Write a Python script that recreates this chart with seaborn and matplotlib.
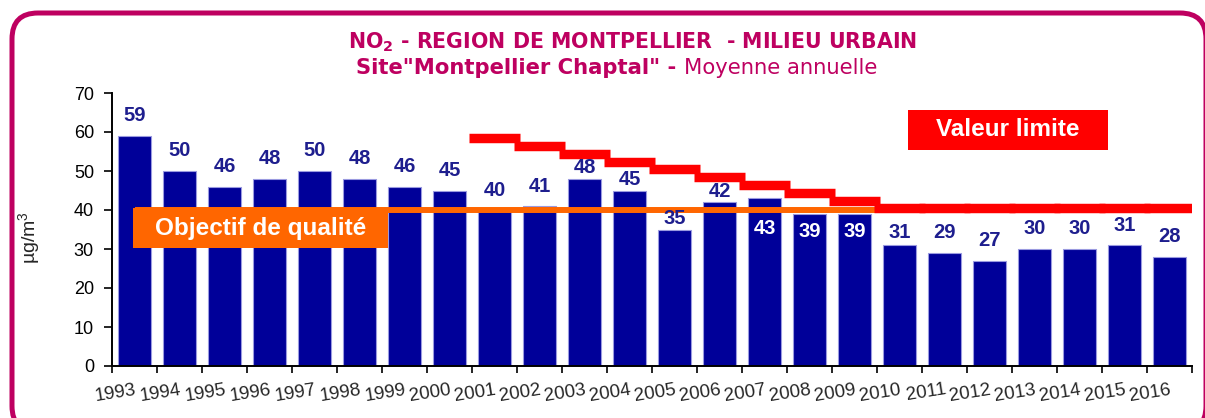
import matplotlib
matplotlib.use('Agg')
import matplotlib.pyplot as plt
import matplotlib.transforms as mtransforms
from matplotlib.patches import Rectangle, FancyBboxPatch
import seaborn as sns
import pandas as pd
import numpy as np

# ---------------- data ----------------
years = [str(y) for y in range(1993, 2017)]
no2_annual = [59, 50, 46, 48, 50, 48, 46, 45, 40, 41, 48, 45,
              35, 42, 43, 39, 39, 31, 29, 27, 30, 30, 31, 28]
limit_years = [str(y) for y in range(2001, 2017)]
limit_values = [58, 56, 54, 52, 50, 48, 46, 44, 42, 40, 40, 40, 40, 40, 40, 40]
quality_objective = 40
quality_span = ("1993", "2010")
y_ticks = [0, 10, 20, 30, 40, 50, 60, 70]

title_line1 = "NO$_\\mathbf{2}$ - REGION DE MONTPELLIER  - MILIEU URBAIN"
title_bold2 = 'Site"Montpellier Chaptal" - '
title_reg2 = "Moyenne annuelle"
ylabel = "µg/m$^3$"
limit_label = "Valeur limite"
quality_label = "Objectif de qualité"

# ---------------- style ----------------
sns.set_theme(style="white")
plt.rcParams['font.family'] = ['Liberation Sans', 'DejaVu Sans']
plt.rcParams['mathtext.fontset'] = 'custom'
plt.rcParams['mathtext.rm'] = 'Liberation Sans'
plt.rcParams['mathtext.it'] = 'Liberation Sans:italic'
plt.rcParams['mathtext.bf'] = 'Liberation Sans:bold'

MAGENTA = '#BE0060'
BAR = '#000099'
LABEL = '#1E1E8E'
RED = '#FF0000'
ORANGE = '#FF6600'
TITLE_FONT = ['DejaVu Sans']

W, H = 1205, 418
fig = plt.figure(figsize=(W / 100, H / 100), dpi=100)
fig.patch.set_facecolor('white')
ax = fig.add_axes([112 / W, 1 - 366 / H, (1192 - 112) / W, (366 - 93) / H])

df = pd.DataFrame({'year': years, 'no2': no2_annual})
sns.barplot(data=df, x='year', y='no2', color=BAR, saturation=1, width=0.73,
            edgecolor='#9a9ae0', linewidth=0.8, ax=ax, zorder=2)

n = len(years)
ax.set_xlim(-0.5, n - 0.5)
ax.set_ylim(0, 70)
ax.set_yticks(y_ticks)
ax.tick_params(axis='y', labelsize=13, left=True, length=6, width=1.2, color='black',
               direction='out', pad=7, labelcolor='black')
ax.set_xticks(np.arange(n + 1) - 0.5)
ax.set_xticklabels([])
ax.set_xticks(np.arange(n), minor=True)
ax.set_xticklabels(years, minor=True, rotation=9, ha='right', rotation_mode='anchor',
                   fontsize=13.5)
ax.tick_params(axis='x', which='major', bottom=True, length=5, width=1.2,
               color='black', direction='out')
ax.tick_params(axis='x', which='minor', bottom=True, length=0, pad=11)
ax.set_xlabel('')
ax.set_ylabel(ylabel, fontsize=14)
ax.yaxis.set_label_coords((42 - 112) / 1080, 0.47)
for s in ['top', 'right']:
    ax.spines[s].set_visible(False)
for s in ['left', 'bottom']:
    ax.spines[s].set_color('black')
    ax.spines[s].set_linewidth(1.4)

# quality objective line
q0 = years.index(quality_span[0])
q1 = years.index(quality_span[1]) - 0.5
ax.hlines(quality_objective, q0, q1, color=ORANGE, lw=4.3, zorder=4)

# limit value staircase
start = years.index(limit_years[0])
for i, v in enumerate(limit_values):
    x0 = start + i - 0.5
    x1 = x0 + 1
    ax.hlines(v + 0.4, x0 - 0.06, x1 + 0.06, color=RED, lw=6.8, zorder=5)

# bar labels
for i, v in enumerate(no2_annual):
    yr = int(years[i])
    color = LABEL
    if 2007 <= yr <= 2009:
        off = -30 if yr == 2007 else -18
        color = 'white'
    elif 2003 <= yr <= 2006:
        off = 11
    elif yr == 2010:
        off = 13
    else:
        off = 20
    ax.annotate(str(v), (i, v), xytext=(0, off * 0.72), textcoords='offset points',
                ha='center', va='center', fontsize=14.5, fontweight='bold',
                color=color, zorder=6)

# label boxes
def px_to_data(px, py):
    return ax.transData.inverted().transform((px, H - py))

fig.canvas.draw()
(bx0, by0) = px_to_data(908, 150)
(bx1, by1) = px_to_data(1108, 110)
ax.add_patch(Rectangle((bx0, by0), bx1 - bx0, by1 - by0, facecolor=RED,
                       edgecolor='none', zorder=6, clip_on=False))
ax.text((bx0 + bx1) / 2, (by0 + by1) / 2, limit_label, color='white',
        fontsize=17.5, fontweight='bold', ha='center', va='center', zorder=7)

(ox0, oy0) = px_to_data(133, 248)
(ox1, oy1) = px_to_data(388, 208)
ax.add_patch(Rectangle((ox0, oy0), ox1 - ox0, oy1 - oy0, facecolor=ORANGE,
                       edgecolor='none', zorder=6, clip_on=False))
ax.text((ox0 + ox1) / 2, (oy0 + oy1) / 2, quality_label, color='white',
        fontsize=17.5, fontweight='bold', ha='center', va='center', zorder=7)

# titles
plt.rcParams['mathtext.bf'] = 'DejaVu Sans:bold'
fig.text(632 / W, 1 - 42 / H, title_line1, color=MAGENTA, fontsize=14.8,
         fontweight='bold', ha='center', va='center', family=TITLE_FONT)
renderer = fig.canvas.get_renderer()
t1 = fig.text(0, 1 - 68 / H, title_bold2, color=MAGENTA, fontsize=15.2,
              fontweight='bold', ha='left', va='center', family=TITLE_FONT)
t2 = fig.text(0, 1 - 68 / H, title_reg2, color=MAGENTA, fontsize=15.2,
              ha='left', va='center', family=TITLE_FONT)
w1 = t1.get_window_extent(renderer).width
w2 = t2.get_window_extent(renderer).width
xstart = 617 - (w1 + w2) / 2
t1.set_x(xstart / W)
t2.set_x((xstart + w1) / W)

# rounded frame
frame = FancyBboxPatch((12, H - 432), 1206 - 12, 432 - 13,
                       boxstyle='round,pad=0,rounding_size=26',
                       facecolor='none', edgecolor=MAGENTA, linewidth=3.6,
                       transform=mtransforms.IdentityTransform(), zorder=10)
fig.add_artist(frame)

fig.savefig('out.png', dpi=100)
